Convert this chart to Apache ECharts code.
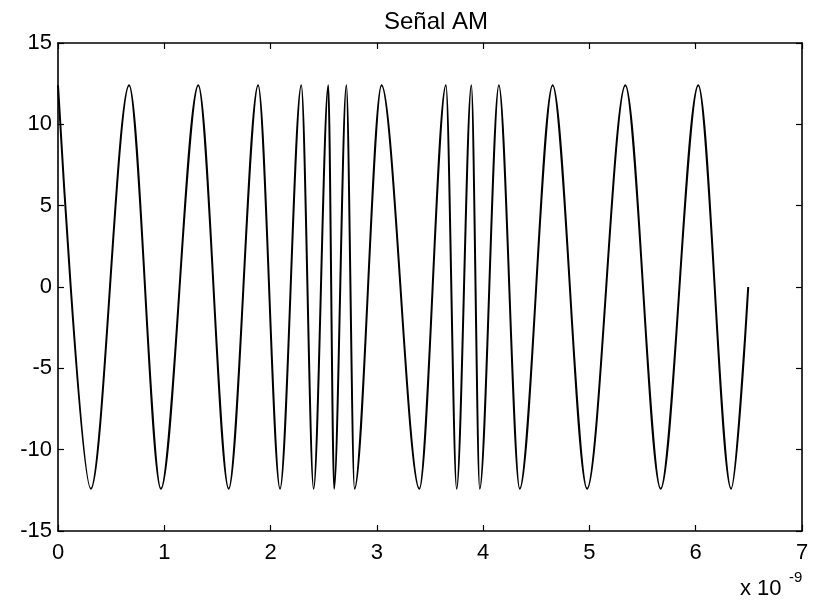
<!DOCTYPE html>
<html>
<head>
<meta charset="utf-8">
<script src="https://cdn.jsdelivr.net/npm/echarts@6/dist/echarts.min.js"></script>
<style>
  html, body { margin: 0; padding: 0; background: #ffffff; }
  #chart { width: 815px; height: 600px; }
</style>
</head>
<body>
<div id="chart"></div>
<script>
// Time of each extremum / end point, in units of 1e-9 s
const timeNs = [0, 0.309, 0.669, 0.968, 1.320, 1.606, 1.883, 2.089, 2.289, 2.405,
                2.543, 2.598, 2.713, 2.790, 3.044, 3.400, 3.650, 3.751, 3.889, 3.968,
                4.148, 4.344, 4.654, 4.978, 5.338, 5.670, 6.024, 6.333, 6.494];
// Signal value at those times
const signalValues = [12.4, -12.4, 12.4, -12.4, 12.4, -12.4, 12.4, -12.4, 12.4, -12.4,
                      12.4, -12.4, 12.4, -12.4, 12.4, -12.4, 12.4, -12.4, 12.4, -12.4,
                      12.4, -12.4, 12.4, -12.4, 12.4, -12.4, 12.4, -12.4, 0];
const xTicks = [0, 1, 2, 3, 4, 5, 6, 7];
const yTicks = [-15, -10, -5, 0, 5, 10, 15];
const chartTitle = 'Señal AM';
const xExponent = '-9';

const FONT = "'Liberation Sans', Arial, Helvetica, sans-serif";
const points = timeNs.map((t, i) => [t, signalValues[i]]);

const chart = echarts.init(document.getElementById('chart'), null, { renderer: 'canvas' });

const lineStyleAxis = { color: '#000', width: 1.6 };
const tickStyle = { show: true, inside: true, length: 6, lineStyle: { color: '#000', width: 1.2 } };

chart.setOption({
  animation: false,
  backgroundColor: '#ffffff',
  title: {
    text: chartTitle,
    left: 431, top: 5, textAlign: 'center',
    textStyle: { fontFamily: FONT, fontSize: 24, fontWeight: 'normal', color: '#000' }
  },
  grid: { left: 58, right: 13, top: 43, bottom: 69, containLabel: false },
  xAxis: [{
    type: 'value', min: xTicks[0], max: xTicks[xTicks.length - 1], interval: 1,
    position: 'bottom',
    axisLine: { show: true, onZero: false, lineStyle: lineStyleAxis },
    axisTick: tickStyle,
    splitLine: { show: false },
    axisLabel: { show: true, margin: 11, fontFamily: FONT, fontSize: 22, color: '#000',
                 formatter: v => String(v) }
  }, {
    type: 'value', min: xTicks[0], max: xTicks[xTicks.length - 1], interval: 1,
    position: 'top',
    axisLine: { show: true, onZero: false, lineStyle: lineStyleAxis },
    axisTick: tickStyle,
    splitLine: { show: false },
    axisLabel: { show: false }
  }],
  yAxis: [{
    type: 'value', min: yTicks[0], max: yTicks[yTicks.length - 1], interval: 5,
    position: 'left',
    axisLine: { show: true, onZero: false, lineStyle: lineStyleAxis },
    axisTick: tickStyle,
    splitLine: { show: false },
    axisLabel: { show: true, margin: 6, fontFamily: FONT, fontSize: 22, color: '#000',
                 formatter: v => String(v) }
  }, {
    type: 'value', min: yTicks[0], max: yTicks[yTicks.length - 1], interval: 5,
    position: 'right',
    axisLine: { show: true, onZero: false, lineStyle: lineStyleAxis },
    axisTick: tickStyle,
    splitLine: { show: false },
    axisLabel: { show: false }
  }],
  graphic: [
    { type: 'text', left: 740, top: 578,
      style: { text: 'x 10', font: "22px 'Liberation Sans', Arial, sans-serif", fill: '#000' } },
    { type: 'text', left: 789, top: 570,
      style: { text: xExponent, font: "15px 'Liberation Sans', Arial, sans-serif", fill: '#000' } }
  ],
  series: [{
    type: 'line',
    xAxisIndex: 0, yAxisIndex: 0,
    data: points,
    showSymbol: false,
    smooth: 0.3,
    smoothMonotone: 'x',
    lineStyle: { color: '#000', width: 2 },
    emphasis: { disabled: true }
  }]
});
</script>
</body>
</html>
